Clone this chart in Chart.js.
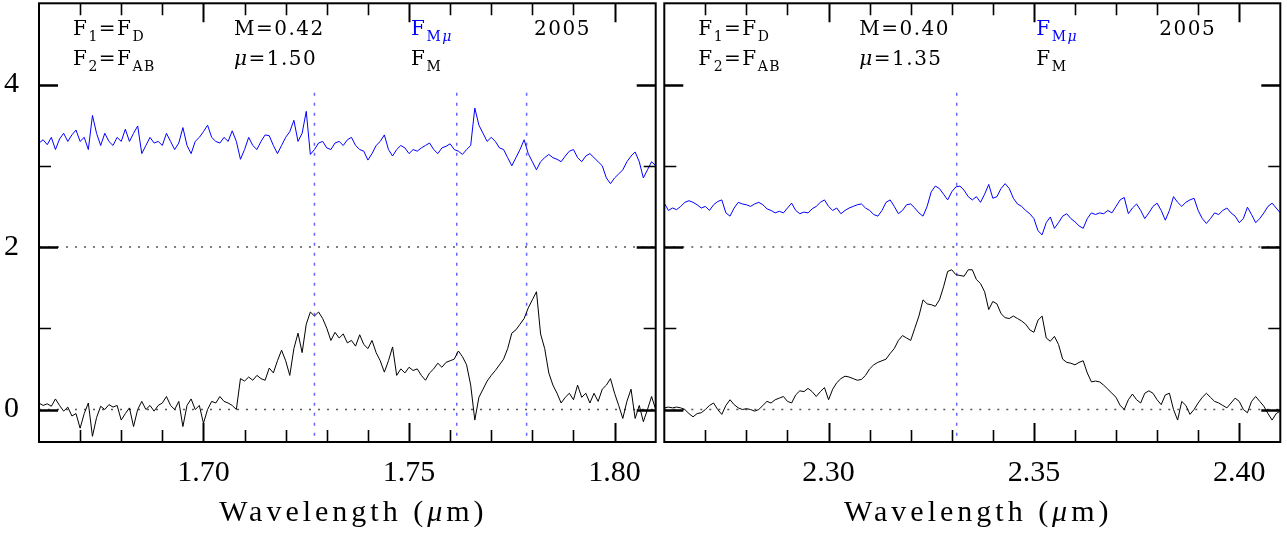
<!DOCTYPE html>
<html>
<head>
<meta charset="utf-8">
<script src="https://cdn.jsdelivr.net/npm/chart.js@4.4.1/dist/chart.umd.min.js"></script>
<style>
  html, body { margin: 0; padding: 0; background: #fff; }
  #wrap { position: relative; width: 1287px; height: 542px; overflow: hidden; }
  #left { position: absolute; left: 0; top: 0; }
  #right { position: absolute; left: 660px; top: 0; }
</style>
</head>
<body>
<div id="wrap">
  <canvas id="left" width="660" height="542"></canvas>
  <canvas id="right" width="627" height="542"></canvas>
</div>
<script>
const waveStep = 0.001;
const leftStart = 1.660;
const rightStart = 2.260;

// linkes Panel (H-Band), F_Mmu oben (blau), F_M unten (schwarz)
const leftFMmu = [
  3.28, 3.32, 3.26, 3.35, 3.20, 3.33, 3.40, 3.30, 3.38, 3.44,
  3.30, 3.35, 3.20, 3.62, 3.40, 3.25, 3.40, 3.30, 3.25, 3.35,
  3.30, 3.45, 3.30, 3.40, 3.49, 3.15, 3.25, 3.35, 3.28, 3.30,
  3.25, 3.40, 3.30, 3.20, 3.28, 3.47, 3.25, 3.15, 3.30, 3.35,
  3.42, 3.50, 3.35, 3.30, 3.28, 3.35, 3.30, 3.43, 3.30, 3.08,
  3.20, 3.35, 3.25, 3.20, 3.30, 3.38, 3.37, 3.25, 3.15, 3.25,
  3.35, 3.42, 3.56, 3.30, 3.40, 3.67, 3.14, 3.20, 3.28, 3.30,
  3.22, 3.20, 3.28, 3.30, 3.25, 3.32, 3.35, 3.25, 3.20, 3.18,
  3.07, 3.15, 3.25, 3.30, 3.38, 3.20, 3.12, 3.20, 3.25, 3.22,
  3.15, 3.20, 3.18, 3.22, 3.25, 3.28, 3.20, 3.15, 3.22, 3.24,
  3.27, 3.20, 3.18, 3.14, 3.20, 3.25, 3.71, 3.50, 3.40, 3.30,
  3.35, 3.30, 3.22, 3.20, 3.10, 3.00, 3.10, 3.20, 3.32, 3.15,
  3.05, 2.95, 3.05, 3.10, 3.14, 3.10, 3.08, 3.05, 3.12, 3.18,
  3.20, 3.10, 3.05, 3.12, 3.15, 3.10, 3.05, 3.00, 2.85, 2.78,
  2.85, 2.90, 2.95, 3.05, 3.12, 3.17, 3.05, 2.85, 2.95, 3.05,
  3.00
];
const leftFM = [
  0.08, 0.05, 0.07, 0.04, 0.13, 0.05, -0.02, 0.03, -0.08, -0.05,
  -0.23, -0.05, 0.08, -0.33, -0.10, 0.04, 0.00, 0.06, 0.03, 0.05,
  -0.13, -0.05, 0.02, -0.21, 0.00, 0.10, 0.00, 0.05, -0.02, 0.05,
  0.08, 0.16, 0.05, 0.00, 0.10, -0.21, 0.05, 0.13, 0.00, 0.05,
  -0.17, 0.00, 0.10, 0.08, 0.16, 0.10, 0.08, 0.05, 0.00, 0.38,
  0.35, 0.40, 0.36, 0.42, 0.38, 0.36, 0.51, 0.45, 0.60, 0.73,
  0.60, 0.42, 0.75, 0.94, 0.70, 1.05, 1.20, 1.15, 1.20, 1.12,
  1.00, 0.85, 0.95, 0.88, 0.93, 0.82, 0.85, 0.78, 0.92, 0.80,
  0.75, 0.85, 0.70, 0.60, 0.46, 0.60, 0.77, 0.42, 0.50, 0.45,
  0.52, 0.48, 0.50, 0.42, 0.36, 0.45, 0.50, 0.57, 0.52, 0.58,
  0.60, 0.62, 0.72, 0.65, 0.55, 0.30, -0.13, 0.15, 0.25, 0.35,
  0.42, 0.48, 0.55, 0.62, 0.75, 0.94, 0.98, 1.05, 1.12, 1.25,
  1.35, 1.45, 0.93, 0.75, 0.45, 0.30, 0.20, 0.08, 0.15, 0.20,
  0.12, 0.30, 0.15, 0.20, 0.08, 0.20, 0.10, 0.25, 0.30, 0.38,
  0.20, 0.05, -0.11, 0.10, 0.25, -0.11, 0.05, -0.15, 0.00, 0.16,
  0.00
];

// rechtes Panel (K-Band)
const rightFMmu = [
  2.54, 2.45, 2.48, 2.46, 2.50, 2.55, 2.57, 2.55, 2.52, 2.48,
  2.50, 2.45, 2.52, 2.56, 2.58, 2.42, 2.38, 2.48, 2.55, 2.53,
  2.52, 2.50, 2.53, 2.55, 2.52, 2.47, 2.45, 2.42, 2.44, 2.42,
  2.48, 2.54, 2.45, 2.41, 2.43, 2.42, 2.47, 2.50, 2.55, 2.58,
  2.50, 2.45, 2.48, 2.41, 2.45, 2.48, 2.50, 2.52, 2.53, 2.48,
  2.45, 2.40, 2.38, 2.45, 2.55, 2.58, 2.50, 2.41, 2.45, 2.52,
  2.53, 2.48, 2.42, 2.38, 2.50, 2.68, 2.75, 2.72, 2.65, 2.58,
  2.68, 2.74, 2.75, 2.70, 2.62, 2.58, 2.62, 2.55, 2.65, 2.77,
  2.60, 2.62, 2.72, 2.78, 2.72, 2.60, 2.53, 2.50, 2.45, 2.41,
  2.35, 2.20, 2.15, 2.30, 2.37, 2.23, 2.30, 2.38, 2.41, 2.35,
  2.31, 2.26, 2.23, 2.35, 2.42, 2.40, 2.42, 2.41, 2.45, 2.42,
  2.50, 2.58, 2.61, 2.41, 2.48, 2.53, 2.45, 2.35, 2.42, 2.50,
  2.54, 2.45, 2.33, 2.45, 2.62, 2.55, 2.50, 2.55, 2.58, 2.60,
  2.45, 2.35, 2.29, 2.35, 2.42, 2.40, 2.45, 2.48, 2.42, 2.38,
  2.30, 2.35, 2.49, 2.40, 2.30, 2.35, 2.42, 2.50, 2.54, 2.48,
  2.42
];
const rightFM = [
  0.02, 0.03, 0.02, 0.03, 0.02, 0.00, -0.05, -0.09, -0.05, -0.04,
  0.00, 0.05, 0.08, 0.00, -0.06, 0.05, 0.12, 0.06, 0.02, 0.00,
  0.01, 0.00, -0.02, 0.00, 0.05, 0.10, 0.08, 0.12, 0.14, 0.16,
  0.10, 0.08, 0.18, 0.23, 0.22, 0.26, 0.22, 0.16, 0.22, 0.27,
  0.12, 0.25, 0.33, 0.38, 0.41, 0.40, 0.38, 0.36, 0.37, 0.42,
  0.50, 0.55, 0.58, 0.60, 0.62, 0.69, 0.75, 0.85, 0.91, 0.88,
  0.85, 1.00, 1.15, 1.35, 1.30, 1.29, 1.27, 1.35, 1.51, 1.70,
  1.72, 1.66, 1.65, 1.64, 1.72, 1.72, 1.60, 1.55, 1.45, 1.23,
  1.33, 1.30, 1.18, 1.13, 1.12, 1.15, 1.12, 1.09, 1.05, 0.98,
  0.95, 1.10, 1.15, 0.88, 0.84, 0.90, 0.80, 0.62, 0.58, 0.57,
  0.55, 0.58, 0.60, 0.45, 0.34, 0.35, 0.34, 0.30, 0.25, 0.20,
  0.15, 0.05, 0.00, 0.12, 0.19, 0.12, 0.08, 0.20, 0.23, 0.20,
  0.12, 0.06, 0.18, 0.20, 0.00, -0.13, 0.10, 0.05, -0.06, 0.00,
  0.08, 0.15, 0.20, 0.15, 0.10, 0.08, 0.05, 0.02, 0.08, 0.14,
  0.10, 0.00, -0.04, 0.10, 0.16, 0.10, 0.04, -0.05, -0.13, -0.05,
  -0.02
];

// Achsen
const leftRange = [1.66, 1.81];
const rightRange = [2.26, 2.41];
const yRange = [-0.4, 5.0];
const leftXTicks = [1.70, 1.75, 1.80];
const rightXTicks = [2.30, 2.35, 2.40];
const yTicks = [0, 2, 4];
const refLevels = [0, 2];

// Linienmarker (blau gepunktet)
const leftLines = [1.727, 1.7616, 1.7786];
const rightLines = [2.3312];
const markerTop = 3.9;

// Beschriftungen
const leftParams = ['0.42', '1.50'];
const rightParams = ['0.40', '1.35'];
const yearLabel = '2005';
const xTitle = [['Wavelength (', ''], ['μ', 'it'], ['m)', '']];

// --- Hilfsfunktionen ---
function waveGrid(start, n) {
    const w = [];
    for (let i = 0; i < n; i++) w.push(+(start + i * waveStep).toFixed(4));
    return w;
}

function spectrum(wave, flux, color) {
    return {
        data: wave.map((w, i) => ({ x: w, y: flux[i] })),
        borderColor: color, borderWidth: 1, pointRadius: 0, tension: 0
    };
}

function hLine(y, range) {
    return {
        data: [{ x: range[0], y }, { x: range[1], y }],
        borderColor: '#555', borderWidth: 1.3, borderDash: [2, 7], pointRadius: 0
    };
}

function vLine(x) {
    return {
        data: [{ x, y: markerTop }, { x, y: yRange[0] }],
        borderColor: '#6464ff', borderWidth: 1.5, borderDash: [3, 7], pointRadius: 0
    };
}

const SERIF = '"Liberation Serif", "Times New Roman", serif';
const NOTE = '"DejaVu Serif", serif';

// Text mit Indizes zeichnen: parts = [[text, 'sub'|'it'|'subit'|'']]
function drawRich(ctx, x, y, parts, color, big, small, family) {
    ctx.fillStyle = color;
    for (const [txt, st] of parts) {
        const sub = st.startsWith('sub');
        const it = st.endsWith('it');
        ctx.font = (it ? 'italic ' : '') + (sub ? small : big) + 'px ' + family;
        ctx.fillText(txt, x, sub ? y + 6 : y);
        x += ctx.measureText(txt).width;
    }
}

function richWidth(ctx, parts, big, family) {
    let w = 0;
    for (const [txt, st] of parts) {
        ctx.font = (st.endsWith('it') ? 'italic ' : '') + big + 'px ' + family;
        w += ctx.measureText(txt).width;
    }
    return w;
}

// Rahmen, Innenticks und Beschriftung
const framePlugin = {
    id: 'frame',
    afterDraw(chart, args, opts) {
        const { ctx, chartArea: a, scales: { x, y } } = chart;
        ctx.save();
        ctx.strokeStyle = '#000';
        ctx.lineCap = 'butt';

        // x-Ticks alle 0.01, groß alle 0.05
        const n = Math.round((x.max - x.min) / 0.01);
        for (let k = 1; k < n; k++) {
            const v = x.min + k * 0.01;
            const major = Math.round(v * 100) % 5 === 0;
            const px = Math.round(x.getPixelForValue(v)) + 0.5;
            const len = major ? 19 : 12;
            ctx.lineWidth = major ? 2 : 1.6;
            ctx.beginPath();
            ctx.moveTo(px, a.bottom); ctx.lineTo(px, a.bottom - len);
            ctx.moveTo(px, a.top); ctx.lineTo(px, a.top + len);
            ctx.stroke();
        }
        // y-Ticks
        for (let v = 0; v <= 4; v++) {
            const major = v % 2 === 0;
            const py = Math.round(y.getPixelForValue(v)) + 0.5;
            const len = major ? 19 : 12;
            ctx.lineWidth = major ? 2.5 : 1.6;
            ctx.beginPath();
            ctx.moveTo(a.left, py); ctx.lineTo(a.left + len, py);
            ctx.moveTo(a.right, py); ctx.lineTo(a.right - len, py);
            ctx.stroke();
        }
        ctx.lineWidth = 2;
        ctx.strokeRect(a.left, a.top, a.right - a.left, a.bottom - a.top);

        // Achsentitel, gesperrt
        ctx.letterSpacing = '4px';
        ctx.textAlign = 'left';
        ctx.textBaseline = 'alphabetic';
        const tw = richWidth(ctx, xTitle, 30, SERIF);
        drawRich(ctx, (a.left + a.right) / 2 + 6 - tw / 2, 521, xTitle, '#000', 30, 30, SERIF);

        // Beschriftung oben
        const L = a.left;
        const r1 = 35, r2 = 65;
        ctx.letterSpacing = '1.5px';
        const note = (dx, row, parts, color) => drawRich(ctx, L + dx, row, parts, color, 20, 14, NOTE);
        note(34, r1, [['F', ''], ['1', 'sub'], ['=F', ''], ['D', 'sub']], '#000');
        note(34, r2, [['F', ''], ['2', 'sub'], ['=F', ''], ['AB', 'sub']], '#000');
        note(195, r1, [['M=' + opts.params[0], '']], '#000');
        note(195, r2, [['μ', 'it'], ['=' + opts.params[1], '']], '#000');
        note(372, r1, [['F', ''], ['M', 'sub'], ['μ', 'subit']], '#0000ff');
        note(372, r2, [['F', ''], ['M', 'sub']], '#000');
        note(495, r1, [[yearLabel, '']], '#000');
        ctx.restore();
    }
};

function makeChart(id, cfg) {
    const wave = waveGrid(cfg.start, cfg.top.length);
    const datasets = [
        spectrum(wave, cfg.top, '#0000ff'),
        spectrum(wave, cfg.bottom, '#000000'),
        ...refLevels.map(l => hLine(l, cfg.range)),
        ...cfg.lines.map(vLine)
    ];
    return new Chart(document.getElementById(id), {
        type: 'line',
        data: { datasets },
        options: {
            responsive: false,
            animation: false,
            devicePixelRatio: 1,
            layout: { padding: cfg.pad },
            plugins: {
                legend: { display: false },
                tooltip: { enabled: false },
                frame: { params: cfg.params }
            },
            scales: {
                x: {
                    type: 'linear', min: cfg.range[0], max: cfg.range[1],
                    grid: { display: false, drawTicks: false },
                    border: { display: false },
                    afterBuildTicks: s => { s.ticks = cfg.xTicks.map(v => ({ value: v })); },
                    afterFit: s => { s.height = 100; s.paddingLeft = 0; s.paddingRight = 0; },
                    ticks: {
                        autoSkip: false, maxRotation: 0, padding: 13, color: '#000',
                        font: { family: SERIF, size: 30 },
                        callback: v => Number(v).toFixed(2)
                    },
                    title: { display: false }
                },
                y: {
                    type: 'linear', min: yRange[0], max: yRange[1],
                    display: cfg.showY,
                    grid: { display: false, drawTicks: false },
                    border: { display: false },
                    afterBuildTicks: s => { s.ticks = yTicks.map(v => ({ value: v })); },
                    afterFit: s => {
                        s.width = cfg.showY ? 39 : 0;
                        s.paddingTop = 0; s.paddingBottom = 0;
                    },
                    ticks: {
                        padding: 20, color: '#000',
                        font: { family: SERIF, size: 30 },
                        callback: v => String(v)
                    }
                }
            }
        },
        plugins: [framePlugin]
    });
}

makeChart('left', {
    start: leftStart, top: leftFMmu, bottom: leftFM,
    range: leftRange, xTicks: leftXTicks, lines: leftLines,
    params: leftParams, showY: true,
    pad: { top: 3.3, right: 4.3, bottom: 0, left: 0 }
});

makeChart('right', {
    start: rightStart, top: rightFMmu, bottom: rightFM,
    range: rightRange, xTicks: rightXTicks, lines: rightLines,
    params: rightParams, showY: false,
    pad: { top: 3.3, right: 6.7, bottom: 0, left: 4.3 }
});
</script>
</body>
</html>
